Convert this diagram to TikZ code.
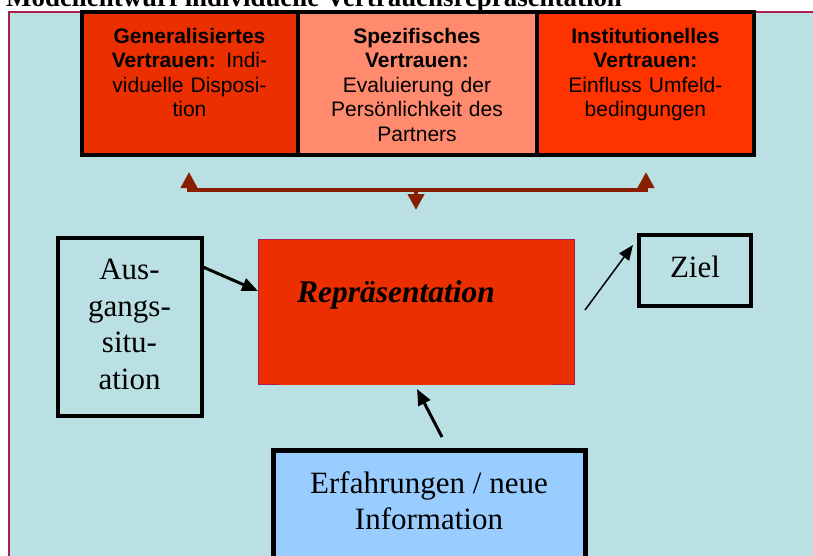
\documentclass[tikz,border=0pt]{standalone}
\usepackage{fontspec}
\setmainfont{Liberation Serif}
\newfontfamily\arialf{Liberation Sans}
\usetikzlibrary{arrows.meta}
\definecolor{bgc}{HTML}{BBE0E3}
\definecolor{framec}{HTML}{A8204E}
\definecolor{cA}{HTML}{EB2F00}
\definecolor{cB}{HTML}{FF8A6E}
\definecolor{cC}{HTML}{FF3300}
\definecolor{barc}{HTML}{8A1E00}
\definecolor{blueb}{HTML}{99CCFF}
\begin{document}
\begin{tikzpicture}[x=1pt,y=1pt,
  topbox/.style={draw=black, line width=4pt, inner sep=0pt, outer sep=0pt, anchor=north west},
  toptext/.style={anchor=north, inner sep=0pt, text width=#1, align=center, font=\arialf\fontsize{21}{24.5}\selectfont},
  serifbox/.style={draw=black, line width=4pt, inner sep=0pt, outer sep=0pt, anchor=north west, fill=bgc},
  bigtext/.style={anchor=north, inner sep=0pt, align=center, font=\fontsize{31}{36.5}\selectfont},
  barline/.style={draw=barc, line width=4pt},
  bartip/.style={-{Triangle[width=16pt,length=16pt]}},
  thickarrow/.style={draw=black, line width=3pt, -{Triangle[width=13pt,length=16pt]}},
  thinarrow/.style={draw=black, line width=1.5pt, -{Triangle[width=12pt,length=15pt]}},
]
\clip (0,0) rectangle (813,-555);
% frame
\draw[draw=framec, line width=1.5pt, fill=bgc] (9,-12) rectangle (840,-580);
% title (cut off at the top, as in the reference)
\node[anchor=base west, inner sep=0pt, font=\fontsize{26.9}{30}\selectfont\bfseries] (title) at (6,-6) {Modellentwurf individuelle Vertrauensrepräsentation};
% top boxes
\node[topbox, fill=cA, minimum width=215.5pt, minimum height=143.3pt] (gen) at (82,-11.7) {};
\node[topbox, fill=cB, minimum width=239pt, minimum height=143.3pt] (spe) at (297.5,-11.7) {};
\node[topbox, fill=cC, minimum width=217.8pt, minimum height=143.3pt] (ins) at (536.5,-11.7) {};
\node[toptext=210pt] (gent) at (189.5,-25.85) {\strut\textbf{Generalisiertes}\\\textbf{Vertrauen:} Indi-\\viduelle Disposi-\\tion};
\node[toptext=232pt] (spet) at (417,-25.85) {\strut\textbf{Spezifisches}\\\textbf{Vertrauen:}\\Evaluierung der\\Persönlichkeit des\\Partners};
\node[toptext=212pt] (inst) at (645.4,-25.85) {\strut\textbf{Institutionelles}\\\textbf{Vertrauen:}\\Einfluss Umfeld-\\bedingungen};
% bar with arrows
\coordinate (bl) at (189,-190);
\coordinate (br) at (646,-190);
\coordinate (bm) at (416,-190);
\coordinate (tl) at (189,-172);
\coordinate (tr) at (646,-172);
\coordinate (td) at (416,-210);
\draw[barline] (bl) -- (br);
\draw[barline, bartip, shorten <=-2pt] (bl) -- (tl);
\draw[barline, bartip, shorten <=-2pt] (br) -- (tr);
\draw[barline, bartip] (bm) -- (td);
% middle
\node[serifbox, minimum width=144pt, minimum height=178.5pt] (aus) at (57.5,-237.5) {};
\node[bigtext] (aust) at (129.5,-253.8) {\strut Aus-\\gangs-\\situ-\\ation};
\node[draw=framec, line width=1pt, fill=cA, minimum width=316pt, minimum height=145pt, anchor=north west, inner sep=0pt, outer sep=0pt] (rep) at (258,-239) {};
\draw[cA, line width=1.2pt] (278,-384) -- (552,-384);
\node[anchor=base west, inner sep=0pt, font=\fontsize{31.5}{36}\selectfont\bfseries\itshape] (rept) at (297,-302) {Repräsentation};
\node[serifbox, minimum width=111.4pt, minimum height=71pt] (ziel) at (639.3,-235) {};
\node[anchor=base, inner sep=0pt, font=\fontsize{31}{36}\selectfont] (zielt) at (695,-277) {Ziel};
\node[serifbox, fill=blueb, line width=5pt, minimum width=312.5pt, minimum height=140pt] (erf) at (273,-450.5) {};
\node[bigtext] (erft) at (429,-467.5) {\strut Erfahrungen / neue\\Information};
% arrows
\coordinate (a1s) at (203,-267);
\coordinate (a1e) at (258,-291);
\coordinate (a2s) at (585,-310);
\coordinate (a2e) at (633,-245);
\coordinate (a3s) at (442,-437);
\coordinate (a3e) at (417,-389);
\draw[thickarrow] (a1s) -- (a1e);
\draw[thinarrow] (a2s) -- (a2e);
\draw[thickarrow] (a3s) -- (a3e);
\end{tikzpicture}
\end{document}
